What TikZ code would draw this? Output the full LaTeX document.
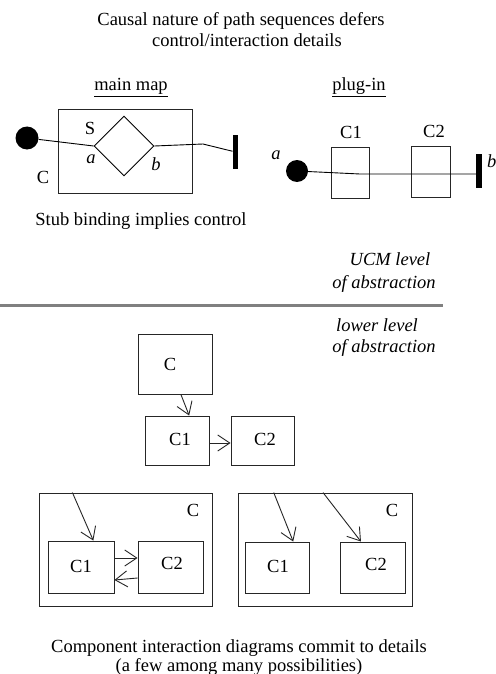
\documentclass[tikz,border=0pt]{standalone}
\usepackage{fontspec}
\setmainfont{Liberation Serif}
\usetikzlibrary{shapes.geometric,arrows.meta}

\tikzset{
  txt/.style={font=\fontsize{18.5}{22}\selectfont, inner sep=0pt, anchor=base},
  itxt/.style={txt, font=\fontsize{18.5}{22}\selectfont\itshape},
  comp/.style={draw=black!85, line width=0.9pt, inner sep=0pt, minimum width=#1},
  comp/.default=60,
  bar/.style={fill=black, inner sep=0pt, minimum width=5.5, minimum height=34},
  startpt/.style={circle, fill=black, inner sep=0pt, minimum size=23},
  path/.style={line width=0.9pt, draw=black},
  arr/.style={line width=0.9pt, draw=black!85, -{Straight Barb[length=12pt,width=16pt,line width=0.9pt]}},
}

\begin{document}
\begin{tikzpicture}[x=1pt,y=1pt]
\useasboundingbox[fill=white] (0,0) rectangle (495,-674);

% heading
\node[txt] (t1) at (241,-26) {Causal nature of path sequences defers};
\node[txt] (t2) at (247,-47) {control/interaction details};

% ---------- main map ----------
\node[txt] (mmtitle) at (131,-91) {\underline{main map}};
\node[comp, minimum width=134, minimum height=84] (mmC) at (125,-151) {};
\node[diamond, draw=black, line width=0.9pt, inner sep=0pt,
      minimum width=60, minimum height=60] (stub) at (124,-146) {};
\node[startpt] (mmstart) at (27,-138) {};
\node[bar] (mmend) at (235.5,-152) {};
\coordinate (mmk) at (203,-144);
\draw[path] (mmstart) -- (stub.west);
\draw[path] (stub.east) -- (mmk) -- (mmend);
\node[txt] (lS) at (90,-134) {S};
\node[itxt] (la) at (91,-163) {a};
\node[itxt] (lb) at (156,-170) {b};
\node[txt] (lC) at (43,-183) {C};
\node[txt] (stubcap) at (141,-225) {Stub binding implies control};

% ---------- plug-in ----------
\node[txt] (pititle) at (359,-91) {\underline{plug-in}};
\node[comp, minimum width=38, minimum height=51] (pC1) at (350,-172.5) {};
\node[comp, minimum width=39, minimum height=51] (pC2) at (430.5,-171.5) {};
\node[txt] (pl1) at (351,-139) {C1};
\node[txt] (pl2) at (434,-137) {C2};
\node[startpt, minimum size=22] (pstart) at (297,-171) {};
\node[bar, minimum width=6] (pend) at (479,-171) {};
\coordinate (pk) at (360,-174);
\draw[path] (pstart) -- (pk) -- ([yshift=-3pt]pend.west);
\node[itxt] (pa) at (276,-159) {a};
\node[itxt, anchor=base west] (pb) at (487,-167) {b};

% ---------- abstraction levels ----------
\node[itxt] (u1) at (390,-265) {UCM level};
\node[itxt] (u2) at (384,-288) {of abstraction};
\coordinate (sepL) at (0,-305);
\coordinate (sepR) at (443,-305);
\draw[line width=3pt, draw=black!50] (sepL) -- (sepR);
\node[itxt] (w1) at (377,-331) {lower level};
\node[itxt] (w2) at (384,-352) {of abstraction};

% ---------- component diagram: nesting ----------
\node[comp, minimum width=74, minimum height=60] (mC) at (175,-364) {};
\node[comp, minimum width=64, minimum height=49] (mC1) at (177,-440.5) {};
\node[comp, minimum width=63, minimum height=49] (mC2) at (262.5,-440.5) {};
\node[txt] (mlC) at (170,-370) {C};
\node[txt] (mlC1) at (180,-445) {C1};
\node[txt] (mlC2) at (265,-445) {C2};
\draw[arr] (mC.-79) -- (mC1.64);
\draw[arr] ([yshift=-2.5pt]mC1.east) -- ([yshift=-2.5pt]mC2.west);

% ---------- component diagram: C1 and C2 talk ----------
\node[comp, minimum width=173, minimum height=113] (lCC) at (125.5,-549.5) {};
\node[comp, minimum width=66, minimum height=52] (lC1) at (81,-567) {};
\node[comp, minimum width=65, minimum height=52] (lC2) at (170.5,-567) {};
\node[txt] (llC) at (193,-516) {C};
\node[txt] (llC1) at (81,-572) {C1};
\node[txt] (llC2) at (172,-569) {C2};
\draw[arr] (lCC.133) -- (lC1.65);
\draw[arr] ([yshift=9pt]lC1.east) -- ([yshift=9pt]lC2.west);
\draw[arr] ([yshift=-11pt]lC2.west) -- ([yshift=-13pt]lC1.east);

% ---------- component diagram: both called from outside ----------
\node[comp, minimum width=174, minimum height=113] (rCC) at (325,-549.5) {};
\node[comp, minimum width=64, minimum height=51] (rC1) at (277,-567.5) {};
\node[comp, minimum width=65, minimum height=51] (rC2) at (372.5,-567.5) {};
\node[txt] (rlC) at (392,-516) {C};
\node[txt] (rlC1) at (278,-572) {C1};
\node[txt] (rlC2) at (376,-570) {C2};
\draw[arr] (rCC.132.6) -- (rC1.58);
\draw[arr] (rCC.92) -- (rC2.114);

% caption
\node[txt] (cap1) at (239,-652) {Component interaction diagrams commit to details};
\node[txt] (cap2) at (239,-671) {(a few among many possibilities)};
\end{tikzpicture}
\end{document}
